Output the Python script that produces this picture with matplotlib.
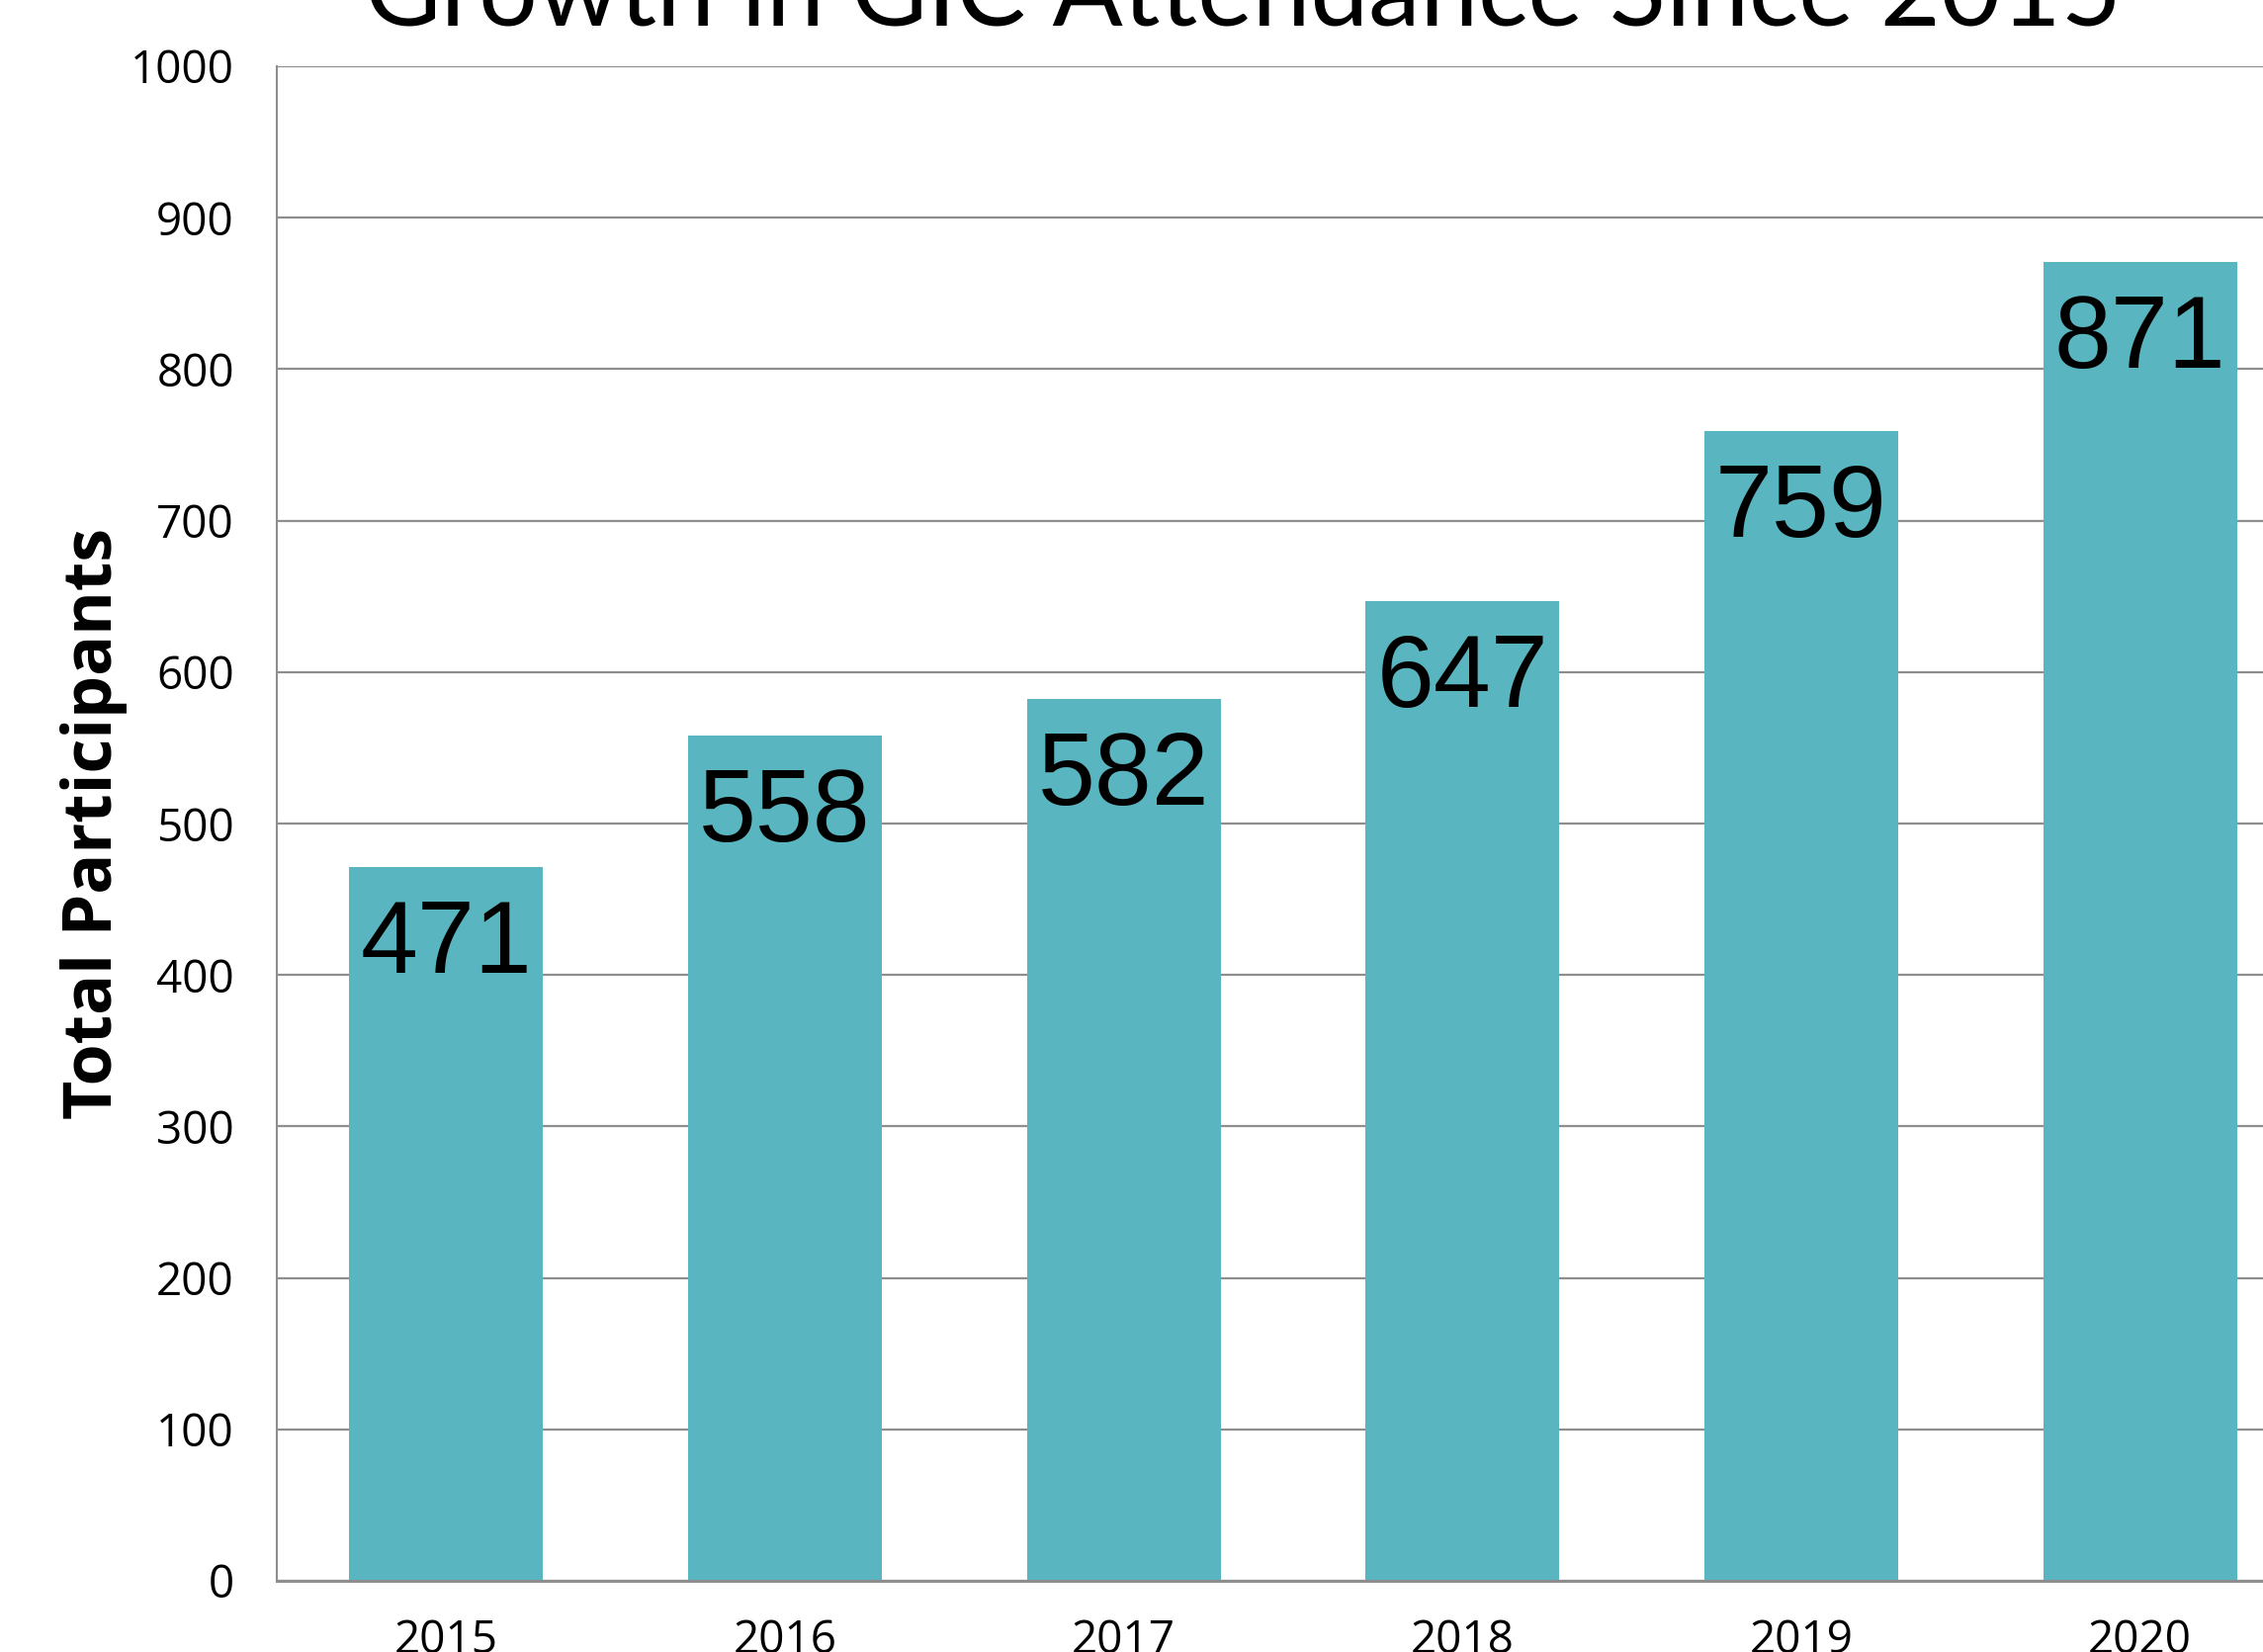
import matplotlib
matplotlib.use("Agg")
import matplotlib.pyplot as plt
from matplotlib import font_manager

years = ["2015", "2016", "2017", "2018", "2019", "2020"]
participants = [471, 558, 582, 647, 759, 871]
yticks = [0, 100, 200, 300, 400, 500, 600, 700, 800, 900, 1000]
title = "Growth in GIC Attendance Since 2015"
ylabel = "Total Participants"

names = {f.name for f in font_manager.fontManager.ttflist}
narrow = "Liberation Sans Narrow" if "Liberation Sans Narrow" in names else "Liberation Sans"

W, H, DPI = 2289, 1671, 100
fig = plt.figure(figsize=(W / DPI, H / DPI), dpi=DPI)
ax = fig.add_axes([280 / W, 1 - 1599 / H, 2056 / W, (1599 - 67) / H])

bar_color = "#59B5C0"
grid_color = "#8E8E8E"
x = list(range(len(years)))
bars = ax.bar(x, participants, width=0.572, color=bar_color, zorder=3)

ax.set_xlim(-0.5, len(years) - 0.5)
ax.set_ylim(0, 1000)
ax.set_yticks(yticks)
ax.set_yticklabels([str(t) for t in yticks])
ax.set_xticks(x)
ax.set_xticklabels(years)
ax.yaxis.grid(True, color=grid_color, linewidth=1.6, zorder=0)
ax.set_axisbelow(True)
ax.tick_params(axis="both", length=0, labelsize=33)
ax.tick_params(axis="y", pad=31)
ax.tick_params(axis="x", pad=27)
for lbl in ax.get_yticklabels() + ax.get_xticklabels():
    lbl.set_fontfamily(["Open Sans", "DejaVu Sans"])
for s in ["top", "right"]:
    ax.spines[s].set_visible(False)
ax.spines["left"].set_color(grid_color)
ax.spines["left"].set_linewidth(1.5)
ax.spines["bottom"].set_color(grid_color)
ax.spines["bottom"].set_linewidth(2.2)
ax.spines["bottom"].set_zorder(4)

ax.set_ylabel(ylabel, fontsize=49, fontweight="bold",
              family=["Open Sans", "DejaVu Sans"], labelpad=2)

lbl_size = 79 if narrow != "Liberation Sans" else 75
for b, v in zip(bars, participants):
    ax.annotate(str(v), (b.get_x() + b.get_width() / 2, v),
                xytext=(0, -23), textcoords="offset points",
                ha="center", va="top", fontsize=lbl_size,
                family=[narrow, "DejaVu Sans"], color="black", zorder=5)

# title: fit width to the reference
t = fig.text((368 + 2146) / 2 / W, 1 - 25 / H, title, ha="center", va="baseline",
             fontsize=100, family=["Lato", "DejaVu Sans"])
fig.canvas.draw()
r = fig.canvas.get_renderer()
w = t.get_window_extent(r).width
t.set_fontsize(100 * 1778 / w)

fig.savefig("out.png", dpi=DPI)
